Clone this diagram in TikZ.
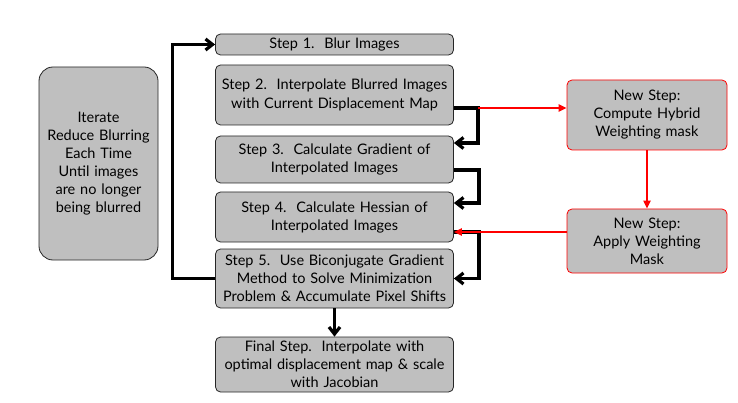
\documentclass[tikz,border=0pt]{standalone}
\usepackage{fontspec}
\setmainfont{Lato}
\usepackage{tikz}
\usetikzlibrary{arrows.meta,positioning,calc}
\definecolor{boxfill}{HTML}{BFBFBF}
\definecolor{boxline}{HTML}{262626}
\definecolor{newred}{HTML}{FF0000}
\begin{document}
\begin{tikzpicture}[x=1pt,y=-1pt,
  stepbox/.style={draw=boxline,fill=boxfill,rounded corners=5pt,align=center,inner sep=1pt,
    minimum width=237pt,text width=236pt,font=\fontsize{14.5}{18}\selectfont,line width=0.8pt},
  newbox/.style={stepbox,draw=newred,minimum width=160pt,text width=156pt},
  flow/.style={draw=black,line width=3.2pt,-{Straight Barb[length=7pt,width=11pt]}},
  redflow/.style={draw=newred,line width=2pt,-{Triangle[length=8pt,width=7pt]}}]
\useasboundingbox (0,0) rectangle (738,403);
\node[stepbox] (s1) at (334.5,44.5) [minimum height=21pt] {Step 1.\ \ Blur Images};
\node[stepbox] (s2) at (334.5,95) [minimum height=60pt,font=\fontsize{14.5}{19.5}\selectfont] {Step 2.\ \ Interpolate Blurred Images\\with Current Displacement Map};
\node[stepbox] (s3) at (334.5,159.5) [minimum height=47pt] {Step 3.\ \ Calculate Gradient of\\Interpolated Images};
\node[stepbox] (s4) at (334.5,217) [minimum height=50pt] {Step 4.\ \ Calculate Hessian of\\Interpolated Images};
\node[stepbox] (s5) at (334.5,278.5) [minimum height=59pt] {Step 5.\ \ Use Biconjugate Gradient\\Method to Solve Minimization\\Problem \& Accumulate Pixel Shifts};
\node[stepbox] (fin) at (334.5,364.5) [minimum height=55pt] {Final Step.\ \ Interpolate with\\optimal displacement map \& scale\\with Jacobian};
\node[stepbox,rounded corners=14pt,minimum width=119pt,text width=117pt,minimum height=193pt] (it) at (98.5,163.5)
  {Iterate\\Reduce Blurring\\Each Time\\Until images\\are no longer\\being blurred};
\node[newbox,minimum height=70pt] (hyb) at (647,115) {New Step:\\Compute Hybrid\\Weighting mask};
\node[newbox,minimum height=64pt] (wm) at (647,241) {New Step:\\Apply Weighting\\Mask};
% corner points of the loops on the right
\coordinate (j2) at (478,108);
% black flow between steps
\draw[flow] ([yshift=-13pt]s2.east) -- (j2) |- ([yshift=16.5pt]s3.east);
\draw[flow] ([yshift=-10.5pt]s3.east) -- ++(25,0) |- ([yshift=14pt]s4.east);
\draw[flow] ([yshift=-15pt]s4.east) -- ++(25,0) |- (s5.east);
\draw[flow] (s5.west) -- ++(-43,0) |- (s1.west);
\draw[flow] (s5.south) -- (fin.north);
% red flow through the new steps
\draw[redflow] (j2) -- (j2 -| hyb.west);
\draw[redflow] (hyb.south) -- (wm.north);
\draw[redflow] ([yshift=9pt]wm.west) -- ([yshift=9pt]wm.west -| s4.east);
\end{tikzpicture}
\end{document}
